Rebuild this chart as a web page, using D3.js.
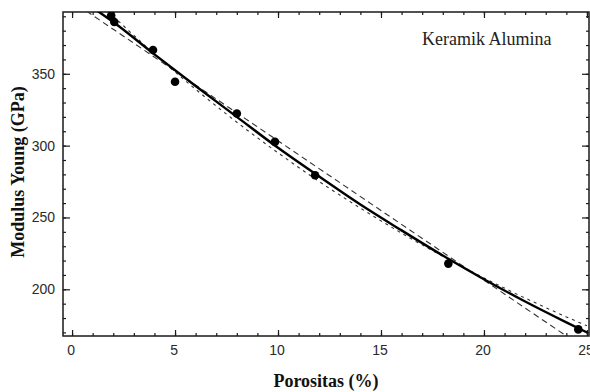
<!DOCTYPE html>
<html>
<head>
<meta charset="utf-8">
<script src="https://cdn.jsdelivr.net/npm/d3@7/dist/d3.min.js"></script>
<style>
  html, body { margin: 0; padding: 0; background: #fff; }
  #chart { width: 590px; height: 392px; }
</style>
</head>
<body>
<div id="chart"></div>
<script>
// measured porosity (%) and Young's modulus (GPa)
const porosity = [1.9, 2.05, 3.93, 5.0, 8.0, 9.85, 11.8, 18.27, 24.58];
const modulus = [390.5, 386.0, 366.5, 344.5, 322.4, 302.6, 279.4, 217.9, 172.1];

// solid fitted curve
const fitX = [1, 2, 4, 6, 8, 10, 12, 14, 16, 18, 20, 22, 24, 25];
const fitY = [396, 386, 363.5, 341.5, 320, 298.5, 278.5, 259, 241, 223.5, 207, 191.5, 177, 170];

// long-dash straight line
const linX = [0.7, 24.2];
const linY = [393.6, 165.6];

// short-dash curve
const expX = [1.5, 2, 4, 6, 8, 10, 12, 14, 16, 18, 20, 22, 24, 25];
const expY = [397, 390.1, 363.8, 339.2, 316.3, 295, 275, 256.5, 239.1, 223, 207.9, 193.9, 180.8, 174.6];

const xTicks = [0, 5, 10, 15, 20, 25];
const yTicks = [200, 250, 300, 350];
const xMinorTicks = d3.range(0, 26, 1);
const yMinorTicks = d3.range(170, 400, 10);

const xDomain = [-0.44, 25.1];
const yDomain = [167.5, 393];

const W = 590, H = 392;
const plot = { left: 63, right: 589, top: 12, bottom: 336 };

const svg = d3.select("#chart").append("svg")
  .attr("width", W)
  .attr("height", H)
  .style("font-family", "'Liberation Serif', 'Times New Roman', serif");

const x = d3.scaleLinear().domain(xDomain).range([plot.left, plot.right]);
const y = d3.scaleLinear().domain(yDomain).range([plot.bottom, plot.top]);

svg.append("clipPath").attr("id", "plot-clip")
  .append("rect")
  .attr("x", plot.left)
  .attr("y", plot.top)
  .attr("width", plot.right - plot.left)
  .attr("height", plot.bottom - plot.top);

const ink = "#1a1a1a";

function styleAxis(g) {
  g.select(".domain").remove();
  g.selectAll("line").attr("stroke", ink).attr("stroke-width", 1.2);
  g.selectAll("text").attr("fill", "#2a2a2a").style("font-size", "14px");
}

// minor ticks on all four sides
svg.append("g").attr("transform", `translate(0,${plot.bottom})`)
  .call(d3.axisBottom(x).tickValues(xMinorTicks).tickSize(-3).tickFormat(""))
  .call(styleAxis);
svg.append("g").attr("transform", `translate(0,${plot.top})`)
  .call(d3.axisTop(x).tickValues(xMinorTicks).tickSize(-3).tickFormat(""))
  .call(styleAxis);
svg.append("g").attr("transform", `translate(${plot.left},0)`)
  .call(d3.axisLeft(y).tickValues(yMinorTicks).tickSize(-3).tickFormat(""))
  .call(styleAxis);
svg.append("g").attr("transform", `translate(${plot.right},0)`)
  .call(d3.axisRight(y).tickValues(yMinorTicks).tickSize(-3).tickFormat(""))
  .call(styleAxis);

// major ticks
svg.append("g").attr("transform", `translate(0,${plot.bottom})`)
  .call(d3.axisBottom(x).tickValues(xTicks).tickSize(-6).tickPadding(9))
  .call(styleAxis)
  .call((g) => g.selectAll("text").attr("dx", "-1.5"));
svg.append("g").attr("transform", `translate(0,${plot.top})`)
  .call(d3.axisTop(x).tickValues(xTicks).tickSize(-6).tickFormat(""))
  .call(styleAxis);
svg.append("g").attr("transform", `translate(${plot.left},0)`)
  .call(d3.axisLeft(y).tickValues(yTicks).tickSize(-7).tickPadding(8))
  .call(styleAxis);
svg.append("g").attr("transform", `translate(${plot.right},0)`)
  .call(d3.axisRight(y).tickValues(yTicks).tickSize(-7).tickFormat(""))
  .call(styleAxis);

// frame
svg.append("rect")
  .attr("x", plot.left)
  .attr("y", plot.top)
  .attr("width", plot.right - plot.left)
  .attr("height", plot.bottom - plot.top)
  .attr("fill", "none")
  .attr("stroke", ink)
  .attr("stroke-width", 1.5);

const lines = svg.append("g").attr("clip-path", "url(#plot-clip)");

const line = d3.line()
  .x((d) => x(d[0]))
  .y((d) => y(d[1]))
  .curve(d3.curveMonotoneX);

lines.append("path")
  .datum(linX.map((v, i) => [v, linY[i]]))
  .attr("d", line)
  .attr("fill", "none")
  .attr("stroke", "#333")
  .attr("stroke-width", 1.1)
  .attr("stroke-dasharray", "6,4");

lines.append("path")
  .datum(expX.map((v, i) => [v, expY[i]]))
  .attr("d", line)
  .attr("fill", "none")
  .attr("stroke", "#333")
  .attr("stroke-width", 1.1)
  .attr("stroke-dasharray", "3,4");

lines.append("path")
  .datum(fitX.map((v, i) => [v, fitY[i]]))
  .attr("d", line)
  .attr("fill", "none")
  .attr("stroke", "#000")
  .attr("stroke-width", 2.4);

lines.selectAll("circle")
  .data(porosity.map((v, i) => [v, modulus[i]]))
  .enter()
  .append("circle")
  .attr("cx", (d) => x(d[0]))
  .attr("cy", (d) => y(d[1]))
  .attr("r", 4.3)
  .attr("fill", "#000");

svg.append("text")
  .attr("x", 422)
  .attr("y", 45)
  .attr("fill", "#222")
  .style("font-size", "18px")
  .text("Keramik Alumina");

svg.append("text")
  .attr("x", 326)
  .attr("y", 387)
  .attr("text-anchor", "middle")
  .attr("fill", "#111")
  .style("font-size", "18px")
  .style("font-weight", "bold")
  .text("Porositas (%)");

svg.append("text")
  .attr("transform", "rotate(-90)")
  .attr("x", -172)
  .attr("y", 24)
  .attr("text-anchor", "middle")
  .attr("fill", "#111")
  .style("font-size", "18px")
  .style("font-weight", "bold")
  .text("Modulus Young (GPa)");
</script>
</body>
</html>
